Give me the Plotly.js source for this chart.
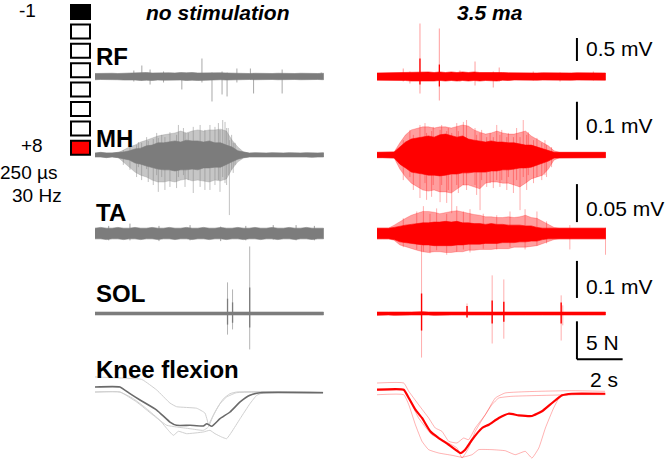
<!DOCTYPE html>
<html><head><meta charset="utf-8">
<script src="https://cdn.plot.ly/plotly-3.0.1.min.js"></script>
<style>html,body{margin:0;padding:0;background:#fff}#chart{width:666px;height:468px}</style>
</head><body><div id="chart"></div>
<script>
// ================= DATA =================
// EMG envelopes sampled every STEP seconds over the 10 s window, in µV
const STEP = 0.25;
const columns = ['no stimulation', '3.5 ma'];
const rowLabels = ['RF', 'MH', 'TA', 'SOL', 'Knee flexion'];
const scaleLabels = ['0.5 mV', '0.1 mV', '0.05 mV', '0.1 mV', '5 N', '2 s'];
const scaleSizes = [500, 100, 50, 100, 5, 2]; // µV, µV, µV, µV, N, s
const electrodes = ['cathode', 'off', 'off', 'off', 'off', 'off', 'off', 'anode'];
const stimLabels = ['-1', '+8', '250 µs', '30 Hz'];

// ---- RF ----
const rfNoStimUpper = [65,70,65,70,65, 70,76,87,80,87, 76,80,87,80,76, 87,80,87,76,80, 87,76,80,76,70, 76,70,65,70,65, 70,65,70,65,70, 65,70,65,70,65, 70];
const rfNoStimLower = [70,65,70,65,70, 76,80,76,87,80, 87,76,80,87,80, 76,87,80,87,76, 80,76,70,76,70, 65,70,65,70,65, 70,65,70,65,70, 65,70,65,70,65, 70];
const rfNoStimSpikeT    = [1.70,2.05,2.41,3.00,3.80,4.68,5.12,5.56,5.78,6.21,6.80,6.94,8.19,9.90];
const rfNoStimSpikeUp   = [130,239,152,109,65,391,87,109,87,174,174,65,152,87];
const rfNoStimSpikeDown = [109,87,174,130,282,130,543,391,434,130,65,369,369,65];

const rfStimUpper = [76,80,76,80,87, 98,87,98,109,98, 87,98,87,98,87, 98,87,98,87,87, 98,87,87,80,76, 80,76,80,76,80, 76,80,76,80,76, 80,76,80,76,80, 76];
const rfStimLower = [80,76,80,76,87, 87,98,109,98,98, 98,87,98,87,98, 87,98,87,98,87, 87,98,80,87,76, 76,80,76,80,76, 80,76,80,76,80, 76,80,76,80,76, 80];
const rfStimSpikeT    = [1.15,1.44,1.88,2.73,3.63,4.29,5.09,5.35,6.84,8.01,9.47];
const rfStimSpikeUp   = [174,109,1150,1042,130,326,109,195,109,87,109];
const rfStimSpikeDown = [109,152,369,521,109,195,239,109,87,109,87];
const rfStimDenseT    = [1.88,2.73];
const rfStimDenseUp   = [391,260];
const rfStimDenseDown = [174,217];

// ---- MH ----
const mhNoStimUpper = [5,7,5,5,7, 8,11,16,18,24, 26,32,32,34,37, 34,39,37,37,34, 37,32,32,26,21, 11,7,5,6,5, 5,6,5,5,6, 5,5,6,5,5, 6];
const mhNoStimLower = [5,5,7,5,7, 9,13,21,24,29, 34,37,39,39,42, 39,39,37,39,34, 34,32,32,26,18, 11,7,5,5,6, 5,5,6,5,5, 6,5,5,6,5, 5];
const mhNoStimHazeUpper = [5,5,5,5,6, 13,21,26,34,39, 45,50,53,55,58, 63,58,63,66,63, 66,66,68,63,39, 21,8,5,5,5, 5,5,5,5,5, 5,5,5,5,5, 5];
const mhNoStimHazeLower = [5,5,5,5,6, 21,32,45,53,58, 66,71,71,68,71, 66,63,68,66,68, 71,66,68,63,37, 18,8,5,5,5, 5,5,5,5,5, 5,5,5,5,5, 5];
const mhNoStimSpikeT    = [1.24,1.53,1.82,1.90,2.04,2.26,2.33,2.55,2.70,2.77,2.92,3.06,3.28,3.57,3.65,3.87,3.94,4.08,4.30,4.60,4.81,5.03,5.25,5.40,5.47,5.59,5.69,5.76,5.83,5.88,5.98,6.05,6.13];
const mhNoStimSpikeUp   = [13,21,26,34,32,47,37,42,58,45,53,47,60,53,79,71,58,58,74,79,66,79,74,84,66,92,87,71,71,39,53,32,32];
const mhNoStimSpikeDown = [26,39,58,32,66,37,71,79,53,97,58,92,84,87,58,53,84,66,100,84,92,92,79,66,97,58,74,79,53,158,39,47,26];

const mhStimUpper = [7,7,7,8,21, 34,42,45,47,50, 47,53,55,50,47, 50,42,39,37,34, 37,34,34,32,32, 29,26,26,21,16, 11,7,7,7,7, 7,7,7,7,7, 7];
const mhStimLower = [7,7,7,8,24, 34,45,47,50,53, 53,55,53,50,50, 47,47,45,45,45, 42,42,39,39,37, 34,34,32,26,21, 16,8,7,7,7, 7,7,7,7,7, 7];
const mhStimHazeUpper = [7,7,7, 8,32,53,66,71, 74,74,71,74,74, 71,76,79,76,66, 60,55,58,63,58, 55,55,58,63,50, 42,34,24,11, 7,7,7,7,7,7,7,7,7];
const mhStimHazeLower = [7,7,7, 8,37,58,74,84, 92,95,92,97,97, 100,89,79,79,84, 89,74,71,71,74, 74,79,84,74,63, 58,53,37,13, 7,7,7,7,7,7,7,7,7];
const mhStimSpikeT    = [1.15,1.44,1.59,1.88,2.10,2.17,2.39,2.46,2.76,2.83,3.05,3.12,3.27,3.49,3.56,3.78,3.92,4.29,4.36,4.51,4.58,4.80,4.95,5.09,5.24,5.38,5.46,5.68,5.75,5.97,6.11,6.26,6.40,6.55,6.62,6.85,7.00,7.21,7.35,7.42,7.64];
const mhStimSpikeUp   = [39,66,53,79,84,58,63,74,66,79,63,71,58,84,63,87,92,71,53,58,66,47,58,47,79,53,66,47,58,47,71,47,92,53,60,39,45,32,39,26,21];
const mhStimSpikeDown = [66,58,92,113,74,118,110,79,124,79,126,92,153,79,100,79,92,79,105,145,66,84,74,87,66,84,66,92,58,100,66,145,58,92,53,74,58,66,53,58,32];

// ---- TA ----
const taNoStimUpper = [7,8,7,7,8, 7,7,8,7,7, 8,7,7,8,7, 7,8,7,7,8, 7,7,8,7,7, 8,7,7,8,7, 7,8,7,7,8, 7,7,8,7,7, 7];
const taNoStimLower = [7,7,8,7,7, 8,7,7,8,7, 7,8,7,7,8, 7,7,8,7,7, 8,7,7,8,7, 7,8,7,7,8, 7,7,8,7,7, 8,7,7,8,7, 7];
const taNoStimSpikeT    = [0.6,1.53,2.8,4.16,5.5,6.6,7.8,8.8,9.6];
const taNoStimSpikeUp   = [10,13,10,11,9,10,11,11,10];
const taNoStimSpikeDown = [9,9,10,9,10,9,8,9,9];

const taStimUpper = [7,7,7,8,10, 11,12,13,14,14, 15,15,16,15,16, 14,14,13,13,12, 13,12,12,11,11, 11,10,10,8,7, 7,7,7,7,7, 7,7,7,7,7, 7];
const taStimLower = [7,7,7,8,11, 12,13,14,15,15, 16,16,16,16,15, 15,14,14,14,13, 13,13,12,12,12, 11,11,10,10,8, 7,7,7,7,7, 7,7,7,7,7, 7];
const taStimHazeUpper = [7,7,7, 11,16,20,24,26, 29,29,28,26,28, 29,30,28,26,25, 24,22,22,21,21, 22,21,22,24,21, 20,16,12,8, 7,7,7,7,7,7,7,7,7];
const taStimHazeLower = [7,7,7, 9,15,17,20,22, 24,25,24,24,25, 25,24,24,22,22, 21,21,21,20,20, 20,18,18,18,17, 16,13,11,8, 7,7,7,7,7,7,7,7,7];
const taStimSpikeT    = [1.15,1.74,2.03,2.32,2.61,3.05,3.49,3.78,4.07,4.65,5.24,5.82,6.48,7.00,7.42,8.44,10.0];
const taStimSpikeUp   = [20,29,36,26,33,26,36,29,32,26,24,29,32,29,16,11,8];
const taStimSpikeDown = [18,21,24,26,22,28,24,21,25,20,21,18,21,16,13,21,28];

// ---- SOL ----
const solNoStimUpper = [4,4,3,4,4, 3,4,4,4,3, 4,4,3,4,4, 4,3,4,4,4, 3,4,4,5,4, 4,5,4,4,3, 4,4,4,3,4, 4,4,3,4,4, 4];
const solNoStimLower = [4,3,4,4,3, 4,4,3,4,4, 3,4,4,4,3, 4,4,3,4,4, 4,4,5,4,4, 5,4,4,3,4, 4,3,4,4,4, 3,4,4,4,3, 4];
const solNoStimSpikeT    = [5.80,6.02,6.77];
const solNoStimSpikeUp   = [84,65,181];
const solNoStimSpikeDown = [57,43,97];
const solNoStimDenseT    = [5.80,6.02,6.77];
const solNoStimDenseUp   = [40,30,70];
const solNoStimDenseDown = [30,25,38];

const solStimUpper = [4,5,4,4,5, 4,4,5,5,4, 4,5,4,4,5, 4,5,4,4,5, 5,4,4,5,4, 4,5,4,4,5, 4,5,5,4,4, 5,4,4,5,4, 4];
const solStimLower = [5,4,4,5,4, 5,4,4,5,4, 5,4,5,4,4, 5,4,4,5,4, 4,5,4,4,5, 4,4,5,4,4, 5,4,4,5,4, 4,5,4,4,5, 4];
const solStimSpikeT    = [1.95,3.94,5.04,5.55,8.06,8.13];
const solStimSpikeUp   = [184,27,103,92,49,22];
const solStimSpikeDown = [119,11,81,68,73,32];
const solStimDenseT    = [1.95,3.94,5.04,5.55,8.06];
const solStimDenseUp   = [54,20,35,32,30];
const solStimDenseDown = [46,11,27,22,27];

// ---- Knee flexion force (N), mean + single trials ----
const kneeNoStimMeanT = [0,1.09,1.53,1.97,2.70,3.28,3.57,4.16,4.74,4.89,5.11,5.47,5.91,6.35,6.78,7.22,9.98];
const kneeNoStimMeanF = [0,0,-0.88,-1.71,-3.03,-4.61,-5.04,-5.04,-5.13,-4.83,-5.17,-4.17,-3.29,-1.97,-1.09,-0.75,-0.75];
const kneeNoStimTrial1T = [0,1.97,2.10,2.70,3.28,3.57,4.45,4.81,4.91,4.97,5.03,5.33,5.62,5.91,6.20,9.98];
const kneeNoStimTrial1F = [1.32,1.05,0.92,-0.39,-2.11,-2.59,-2.80,-3.42,-4.34,-5.0,-4.61,-2.86,-1.54,-0.88,-0.66,-0.66];
const kneeNoStimTrial2T = [0,1.09,1.68,2.26,2.84,3.21,3.43,3.65,4.01,4.74,5.03,5.25,5.54,5.76,5.98,6.35,6.78,7.08,7.37,9.98];
const kneeNoStimTrial2F = [-0.66,-0.66,-1.54,-2.86,-4.38,-5.70,-6.36,-5.83,-6.14,-5.92,-5.70,-6.14,-6.58,-6.80,-5.92,-4.17,-2.20,-1.09,-0.75,-0.75];
const kneeNoStimTrial3T = [0,1.09,1.82,2.55,3.14,3.57,4.16,4.74,4.96,5.18,5.47,5.76,6.20,9.98];
const kneeNoStimTrial3F = [-0.66,-0.66,-1.97,-3.72,-5.04,-5.26,-5.49,-5.70,-5.26,-3.72,-2.20,-1.32,-0.75,-0.75];

const kneeStimMeanT = [0,1.17,1.39,1.68,1.97,2.33,2.70,3.14,3.65,3.86,4.16,4.60,4.89,5.33,5.76,6.20,6.78,7.22,7.66,8.10,8.53,9.99];
const kneeStimMeanF = [0,0,-1.09,-2.63,-3.72,-5.47,-6.36,-7.24,-8.33,-7.89,-6.58,-5.04,-4.61,-3.72,-3.16,-3.37,-3.46,-2.84,-1.75,-0.74,-0.53,-0.53];
const kneeStimTrial1T = [0,1.17,1.39,1.82,2.26,2.55,2.84,3.14,3.50,3.79,4.01,4.30,4.74,5.18,5.61,7.08,8.53,9.98];
const kneeStimTrial1F = [0.88,0.88,-0.21,-1.97,-3.72,-5.04,-5.47,-6.79,-7.01,-6.36,-6.58,-5.04,-3.29,-1.09,-0.43,-0.21,-0.13,-0.21];
const kneeStimTrial2T = [0,1.17,1.39,1.68,1.97,2.26,2.70,3.28,3.72,4.16,4.45,5.03,5.61,6.05,6.49,6.78,7.08,7.37,7.73,8.02,8.53,9.99];
const kneeStimTrial2F = [-0.66,-0.66,-1.97,-4.61,-6.79,-7.89,-8.33,-8.63,-8.89,-8.55,-7.89,-7.89,-8.03,-8.55,-8.11,-8.99,-7.67,-5.04,-2.41,-0.87,-0.66,-0.66];
const kneeStimTrial3T = [0,1.17,1.82,2.40,2.98,3.50,3.72,4.01,4.30,4.74,5.03,5.33,5.90,8.53,9.99];
const kneeStimTrial3F = [-0.1,-0.1,-3.72,-5.92,-6.79,-7.67,-8.99,-7.67,-5.47,-3.29,-1.97,-1.09,-0.87,-0.66,-0.57];

// ================= LAYOUT GEOMETRY =================
const W = 666, H = 468;
const PX_PER_S = 22.85;
const colX0 = [95, 377];                 // pixel of t = 0 for each column
// baseline pixel and units-per-pixel of each row axis
const rowGeom = [
  {base: 76.5,  perPx: 21.74},   // RF  µV
  {base: 155,   perPx: 2.63},    // MH  µV
  {base: 233.5, perPx: 1.316},   // TA  µV
  {base: 313.5, perPx: 2.70},    // SOL µV
  {base: 387,   perPx: 1/7.6},   // knee (no stim) N
  {base: 389.7, perPx: 1/7.6}    // knee (3.5 mA) N
];
const FONT = 'Liberation Sans, Arial, Helvetica, sans-serif';
const GRAY = '#7c7c7c', GRAY_LIGHT = '#c2c2c2', GRAY_HAZE = 'rgba(128,128,128,0.45)';
const RED = '#ff0000', RED_LIGHT = 'rgba(255,0,0,0.32)', RED_HAZE = 'rgba(255,0,0,0.38)';

const px = v => v / W;
const py = v => 1 - v / H;

function band(upper, lower, xa, ya, color) {
  const t = upper.map((_, i) => i * STEP);
  const x = t.concat(t.slice().reverse());
  const y = upper.concat(lower.map(v => -v).reverse());
  return {type: 'scatter', mode: 'lines', x, y, xaxis: xa, yaxis: ya, fill: 'toself',
          fillcolor: color, line: {color, width: 0.6}, hoverinfo: 'skip', showlegend: false};
}
function spikes(ts, ups, downs, xa, ya, color, width) {
  const x = [], y = [];
  ts.forEach((t, i) => { x.push(t, t, null); y.push(ups[i], -downs[i], null); });
  return {type: 'scatter', mode: 'lines', x, y, xaxis: xa, yaxis: ya,
          line: {color, width: width || 1}, hoverinfo: 'skip', showlegend: false};
}
function curve(t, f, xa, ya, color, width) {
  return {type: 'scatter', mode: 'lines', x: t, y: f, xaxis: xa, yaxis: ya,
          line: {color, width, shape: 'spline', smoothing: 0.4}, hoverinfo: 'skip', showlegend: false};
}

const traces = [
  // RF
  spikes(rfNoStimSpikeT, rfNoStimSpikeUp, rfNoStimSpikeDown, 'x', 'y', '#a8a8a8', 1),
  band(rfNoStimUpper, rfNoStimLower, 'x', 'y', GRAY),
  spikes(rfStimSpikeT, rfStimSpikeUp, rfStimSpikeDown, 'x2', 'y', RED_LIGHT, 1.2),
  band(rfStimUpper, rfStimLower, 'x2', 'y', RED),
  spikes(rfStimDenseT, rfStimDenseUp, rfStimDenseDown, 'x2', 'y', RED, 1.3),
  // MH
  spikes(mhNoStimSpikeT, mhNoStimSpikeUp, mhNoStimSpikeDown, 'x', 'y2', GRAY_LIGHT, 1),
  band(mhNoStimHazeUpper, mhNoStimHazeLower, 'x', 'y2', GRAY_HAZE),
  band(mhNoStimUpper, mhNoStimLower, 'x', 'y2', GRAY),
  spikes(mhStimSpikeT, mhStimSpikeUp, mhStimSpikeDown, 'x2', 'y2', RED_LIGHT, 1),
  band(mhStimHazeUpper, mhStimHazeLower, 'x2', 'y2', RED_HAZE),
  band(mhStimUpper, mhStimLower, 'x2', 'y2', RED),
  // TA
  spikes(taNoStimSpikeT, taNoStimSpikeUp, taNoStimSpikeDown, 'x', 'y3', '#a0a0a0', 1),
  band(taNoStimUpper, taNoStimLower, 'x', 'y3', GRAY),
  spikes(taStimSpikeT, taStimSpikeUp, taStimSpikeDown, 'x2', 'y3', RED_LIGHT, 1),
  band(taStimHazeUpper, taStimHazeLower, 'x2', 'y3', RED_HAZE),
  band(taStimUpper, taStimLower, 'x2', 'y3', RED),
  // SOL
  spikes(solNoStimSpikeT, solNoStimSpikeUp, solNoStimSpikeDown, 'x', 'y4', '#b4b4b4', 1),
  band(solNoStimUpper, solNoStimLower, 'x', 'y4', GRAY),
  spikes(solNoStimDenseT, solNoStimDenseUp, solNoStimDenseDown, 'x', 'y4', GRAY, 1.3),
  spikes(solStimSpikeT, solStimSpikeUp, solStimSpikeDown, 'x2', 'y4', RED_LIGHT, 1),
  band(solStimUpper, solStimLower, 'x2', 'y4', RED),
  spikes(solStimDenseT, solStimDenseUp, solStimDenseDown, 'x2', 'y4', RED, 1.4),
  // Knee
  curve(kneeNoStimTrial1T, kneeNoStimTrial1F, 'x', 'y5', '#d0d0d0', 1),
  curve(kneeNoStimTrial2T, kneeNoStimTrial2F, 'x', 'y5', '#d0d0d0', 1),
  curve(kneeNoStimTrial3T, kneeNoStimTrial3F, 'x', 'y5', '#d0d0d0', 1),
  curve(kneeNoStimMeanT, kneeNoStimMeanF, 'x', 'y5', '#6a6a6a', 1.6),
  curve(kneeStimTrial1T, kneeStimTrial1F, 'x2', 'y6', 'rgba(255,0,0,0.3)', 1),
  curve(kneeStimTrial2T, kneeStimTrial2F, 'x2', 'y6', 'rgba(255,0,0,0.3)', 1),
  curve(kneeStimTrial3T, kneeStimTrial3F, 'x2', 'y6', 'rgba(255,0,0,0.3)', 1),
  curve(kneeStimMeanT, kneeStimMeanF, 'x2', 'y6', RED, 2.2)
];

// axes: every axis spans the whole figure, ranges put each baseline at its pixel row
const hidden = {visible: false, fixedrange: true, domain: [0, 1]};
const layout = {
  width: W, height: H, margin: {l: 0, r: 0, t: 0, b: 0},
  paper_bgcolor: '#fff', plot_bgcolor: 'rgba(0,0,0,0)', showlegend: false,
  font: {family: FONT, color: '#000'},
  xaxis:  Object.assign({}, hidden, {range: [-colX0[0] / PX_PER_S, (W - colX0[0]) / PX_PER_S]}),
  xaxis2: Object.assign({}, hidden, {overlaying: 'x', range: [-colX0[1] / PX_PER_S, (W - colX0[1]) / PX_PER_S]}),
  shapes: [], annotations: []
};
rowGeom.forEach((g, i) => {
  const key = i === 0 ? 'yaxis' : 'yaxis' + (i + 1);
  const ax = Object.assign({}, hidden, {range: [-(H - g.base) * g.perPx, g.base * g.perPx]});
  if (i > 0) ax.overlaying = 'y';
  layout[key] = ax;
});

// scale bars (data units of each row), placed at t = 8.75 s of the right column
const barT = 8.75;
const barBottoms = [337, 40, 15, 42, 4.0];
const barAxes = ['y', 'y2', 'y3', 'y4', 'y6'];
barAxes.forEach((ya, i) => {
  layout.shapes.push({type: 'line', xref: 'x2', yref: ya, x0: barT, x1: barT,
    y0: barBottoms[i], y1: barBottoms[i] + scaleSizes[i], line: {color: '#000', width: 2}});
});
layout.shapes.push({type: 'line', xref: 'x2', yref: 'y6', x0: barT, x1: barT + scaleSizes[5],
  y0: barBottoms[4], y1: barBottoms[4], line: {color: '#000', width: 2}});

// scale bar labels
const scaleLabelPos = [[584, 48.5, 'left'], [584, 126, 'left'], [584, 208, 'left'], [584, 286, 'left'], [584, 342, 'left'], [604, 379, 'center']];
scaleLabels.forEach((s, i) => {
  layout.annotations.push({text: s, xref: 'paper', yref: 'paper', x: px(scaleLabelPos[i][0]), y: py(scaleLabelPos[i][1]),
    xanchor: scaleLabelPos[i][2], yanchor: 'middle', showarrow: false, font: {size: 21, family: FONT}});
});

// column titles
const colTitleX = [217.5, 490];
columns.forEach((c, i) => layout.annotations.push({text: '<b><i>' + c + '</i></b>', xref: 'paper', yref: 'paper',
  x: px(colTitleX[i]), y: py(12), xanchor: 'center', yanchor: 'middle', showarrow: false, font: {size: 21, family: FONT}}));

// row labels
const rowLabelY = [56, 138, 213, 293, 369];
rowLabels.forEach((r, i) => layout.annotations.push({text: '<b>' + r + '</b>', xref: 'paper', yref: 'paper',
  x: px(94), y: py(rowLabelY[i]), xanchor: 'left', yanchor: 'middle', showarrow: false, font: {size: 24, family: FONT}}));

// stimulation labels
const stimPos = [[27, 10], [32, 145], [28, 172], [37, 195]];
stimLabels.forEach((s, i) => layout.annotations.push({text: s, xref: 'paper', yref: 'paper',
  x: px(stimPos[i][0]), y: py(stimPos[i][1]), xanchor: 'center', yanchor: 'middle', showarrow: false, font: {size: 19, family: FONT}}));

// electrode array
const fillOf = {cathode: '#000', off: '#fff', anode: '#ff0000'};
electrodes.forEach((e, i) => {
  const top = 5 + i * 19.4;
  layout.shapes.push({type: 'rect', xref: 'paper', yref: 'paper', x0: px(71), x1: px(90), y0: py(top + 14), y1: py(top),
    fillcolor: fillOf[e], line: {color: '#000', width: 2}});
});

Plotly.newPlot('chart', traces, layout, {staticPlot: true, displayModeBar: false});
</script></body></html>
